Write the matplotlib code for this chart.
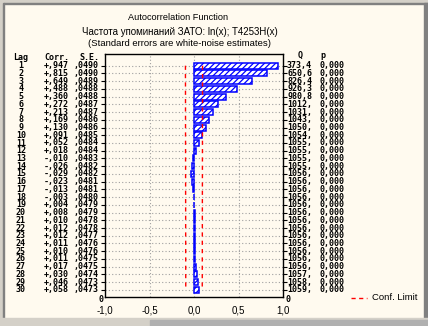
import matplotlib
matplotlib.use("Agg")
import matplotlib.pyplot as plt
from matplotlib.patches import Rectangle
import numpy as np

lags = list(range(1, 31))
corr = [0.947, 0.815, 0.649, 0.488, 0.360, 0.272, 0.213, 0.169, 0.130, 0.091,
        0.052, 0.018, -0.010, -0.026, -0.029, -0.023, -0.013, -0.003, 0.004, 0.008,
        0.010, 0.012, 0.012, 0.011, 0.010, 0.011, 0.017, 0.030, 0.046, 0.058]
se = [0.0490, 0.0490, 0.0489, 0.0488, 0.0488, 0.0487, 0.0487, 0.0486, 0.0486, 0.0485,
      0.0484, 0.0484, 0.0483, 0.0482, 0.0482, 0.0481, 0.0481, 0.0480, 0.0479, 0.0479,
      0.0478, 0.0478, 0.0477, 0.0476, 0.0476, 0.0475, 0.0475, 0.0474, 0.0473, 0.0473]
q_labels = ["373,4", "650,6", "826,4", "926,3", "980,8", "1012,", "1031,", "1043,", "1050,", "1054,",
            "1055,", "1055,", "1055,", "1055,", "1056,", "1056,", "1056,", "1056,", "1056,", "1056,",
            "1056,", "1056,", "1056,", "1056,", "1056,", "1056,", "1056,", "1057,", "1058,", "1059,"]
p_labels = ["0,000"] * 30
xticks = [-1.0, -0.5, 0.0, 0.5, 1.0]
xtick_labels = ["-1,0", "-0,5", "0,0", "0,5", "1,0"]

plt.rcParams["hatch.color"] = "#0000FF"
plt.rcParams["hatch.linewidth"] = 0.9

W, H = 428, 326
bg = "#FFFAEF"
fig = plt.figure(figsize=(W / 100, H / 100), dpi=100, facecolor=bg)

def fx(px):
    return px / W

def fy(py):
    return 1 - py / H

# window frame
frame = fig.add_axes([0, 0, 1, 1], zorder=-5)
frame.set_xlim(0, W); frame.set_ylim(H, 0); frame.axis("off")
frame.add_patch(Rectangle((0, 0), W, H, color=bg))
frame.add_patch(Rectangle((0, 0), W, 3, color="#D4D0C8"))
frame.add_patch(Rectangle((0, 3), W, 1, color="#808080"))
frame.add_patch(Rectangle((0, 0), 3, H, color="#D4D0C8"))
frame.add_patch(Rectangle((3, 3), 1.5, 315, color="#808080"))
frame.add_patch(Rectangle((424, 3), 4, 315, color="#808080"))
frame.add_patch(Rectangle((0, 318), W, 8, color="#D4D0C8"))
frame.add_patch(Rectangle((150, 320), 278, 6, color="#B0B0B0"))

# axes geometry (pixels)
ax_l, ax_r, ax_t, ax_b = 105, 283, 54, 297
row1, step = 65.7, 7.73
ylo = 1 + (ax_b - row1) / step
yhi = 1 + (ax_t - row1) / step
ax = fig.add_axes([fx(ax_l), fy(ax_b), fx(ax_r - ax_l), (ax_b - ax_t) / H], facecolor=bg)
ax.set_xlim(-1, 1)
ax.set_ylim(ylo, yhi)

for lg in lags:
    ax.axhline(lg, color="#A0A0A0", lw=0.8, ls=(0, (1, 2)), zorder=0)
for xv in [-0.5, 0.0, 0.5]:
    ax.axvline(xv, color="#A0A0A0", lw=0.8, ls=(0, (1, 2)), zorder=0)

ax.barh(lags, corr, height=0.78, left=0, color="white", edgecolor="#0000FF",
        hatch="//////", lw=1.1, zorder=2)

lim = [1.96 * s for s in se]
ax.plot(lim, lags, color="#FF0000", lw=1.0, ls=(0, (3, 3)), zorder=3)
ax.plot([-v for v in lim], lags, color="#FF0000", lw=1.0, ls=(0, (3, 3)), zorder=3)

ax.set_xticks(xticks)
ax.set_xticklabels(xtick_labels, fontsize=7, family="Liberation Sans")
ax.tick_params(axis="x", length=0, pad=6)
ax.set_yticks(lags)
ax.set_yticklabels([])
ax.tick_params(axis="y", length=3, width=0.8, left=True, right=True, direction="out")
for s in ax.spines.values():
    s.set_linewidth(1.0)
    s.set_color("black")

mono = dict(family="DejaVu Sans Mono", fontsize=6.0, fontweight="bold", color="black")
txt = fig.text
def ypix(lg):
    return row1 + (lg - 1) * step

txt(fx(21), fy(57), "Lag", ha="center", va="center", **mono)
txt(fx(69), fy(57), "Corr.", ha="right", va="center", **mono)
txt(fx(99), fy(57), "S.E.", ha="right", va="center", **mono)
txt(fx(300), fy(55), "Q", ha="center", va="center", **mono)
txt(fx(323), fy(56), "p", ha="center", va="center", **mono)

def fmt_corr(v):
    s = f"{abs(v):.3f}".replace("0.", ",")
    return ("+" if v >= 0 else "-") + s

for lg, c, s_, q, p in zip(lags, corr, se, q_labels, p_labels):
    y = fy(ypix(lg))
    txt(fx(21), y, str(lg), ha="center", va="center", **mono)
    txt(fx(69), y, fmt_corr(c), ha="right", va="center", **mono)
    txt(fx(99), y, f"{s_:.4f}".replace("0.", ","), ha="right", va="center", **mono)
    txt(fx(287), y, q, ha="left", va="center", **mono)
    txt(fx(320), y, p, ha="left", va="center", **mono)

txt(fx(101), fy(299), "0", ha="center", va="center", **mono)
txt(fx(288), fy(299), "0", ha="center", va="center", **mono)

sans = dict(family="Liberation Sans", color="black")
txt(fx(178), fy(17), "Autocorrelation Function", ha="center", va="center", fontsize=6.6, **sans)
txt(fx(179.5), fy(32), "Частота упоминаний ЗАТО: ln(x); T4253H(x)", ha="center", va="center", fontsize=7.0, **sans)
txt(fx(179.5), fy(44), "(Standard errors are white-noise estimates)", ha="center", va="center", fontsize=6.8, **sans)

frame.plot([351, 367], [298, 298], color="#FF0000", lw=1.0, ls=(0, (3, 2.5)))
txt(fx(372), fy(298), "Conf. Limit", ha="left", va="center", fontsize=6.8, **sans)

fig.savefig("out.png", dpi=100, facecolor=bg)
